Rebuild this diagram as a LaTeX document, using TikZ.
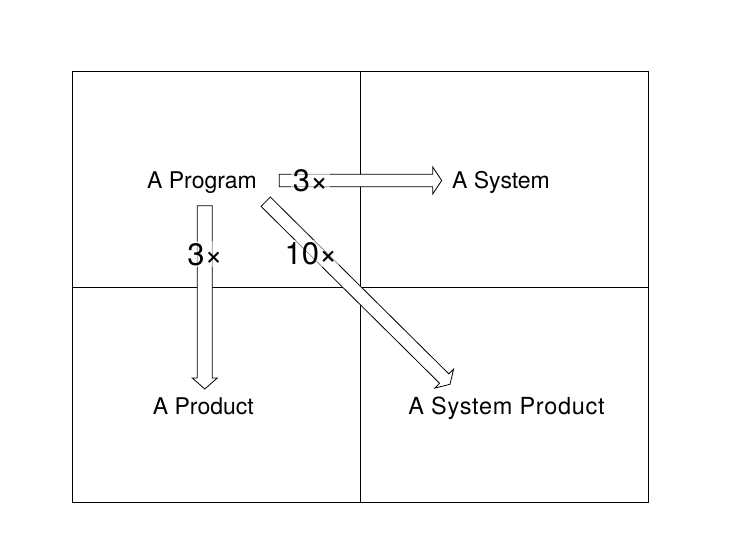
\documentclass[tikz,border=0pt]{standalone}
\usepackage{fontspec}
\setmainfont{TeX Gyre Heros}
\usetikzlibrary{calc}
\tikzset{
  gridline/.style={draw=black, line width=1pt},
  blockarrow/.style={draw=black, fill=white, line width=0.8pt, line join=miter},
  term/.style={font=\fontsize{23}{27}\selectfont, inner sep=0pt, anchor=base},
  factor/.style={font=\fontsize{31}{36}\selectfont, inner sep=2pt, anchor=base,
                 fill=white, fill opacity=0.55, text opacity=1},
}
% tail, tip, shaft half width, head half width, head length
\newcommand\blockarrowpath[5]{%
  \coordinate (#1#2h) at ($(#2)!#5!(#1)$);
  \draw[blockarrow] ($(#1)!#3!90:(#2)$) -- ($(#1#2h)!#3!90:(#2)$)
    -- ($(#1#2h)!#4!90:(#2)$) -- (#2) -- ($(#1#2h)!#4!-90:(#2)$)
    -- ($(#1#2h)!#3!-90:(#2)$) -- ($(#1)!#3!-90:(#2)$) -- cycle;
}
\begin{document}
\begin{tikzpicture}[x=1pt, y=-1pt]
  \useasboundingbox (0,0) rectangle (756,552);
  % frame and quadrants
  \coordinate (tl) at (72,71.5);
  \coordinate (br) at (648,502);
  \coordinate (mt) at (360,71.5);
  \coordinate (mb) at (360,502);
  \coordinate (ml) at (72,287);
  \coordinate (mr) at (648,287);
  \draw[gridline] (tl) rectangle (br);
  \draw[gridline] (mt) -- (mb);
  \draw[gridline] (ml) -- (mr);
  % terms
  \node[term] (prog) at (202,188.8) {A Program};
  \node[term] (sys) at (501,188.8) {A System};
  \node[term] (prod) at (203.3,414.5) {A Product};
  \node[term, font=\fontsize{23.5}{27}\selectfont\addfontfeature{LetterSpace=3}] (sysprod) at (506.5,414.5) {A System Product};
  % arrow ends
  \coordinate (hT) at (279.3,180.5);
  \coordinate (hP) at (441.7,180.5);
  \coordinate (vT) at (204.8,205.7);
  \coordinate (vP) at (204.8,389);
  \coordinate (dT) at (265.7,201.7);
  \coordinate (dP) at (450,384.3);
  \blockarrowpath{hT}{hP}{6.2pt}{13.5pt}{9pt}
  \blockarrowpath{vT}{vP}{7.5pt}{12.5pt}{11pt}
  \blockarrowpath{dT}{dP}{6.6pt}{13.3pt}{8.1pt}
  % factors
  \node[factor] (f1) at (310.5,191.7) {3×};
  \node[factor] (f2) at (205,265) {3×};
  \node[factor] (f3) at (311,264.3) {10×};
\end{tikzpicture}
\end{document}
